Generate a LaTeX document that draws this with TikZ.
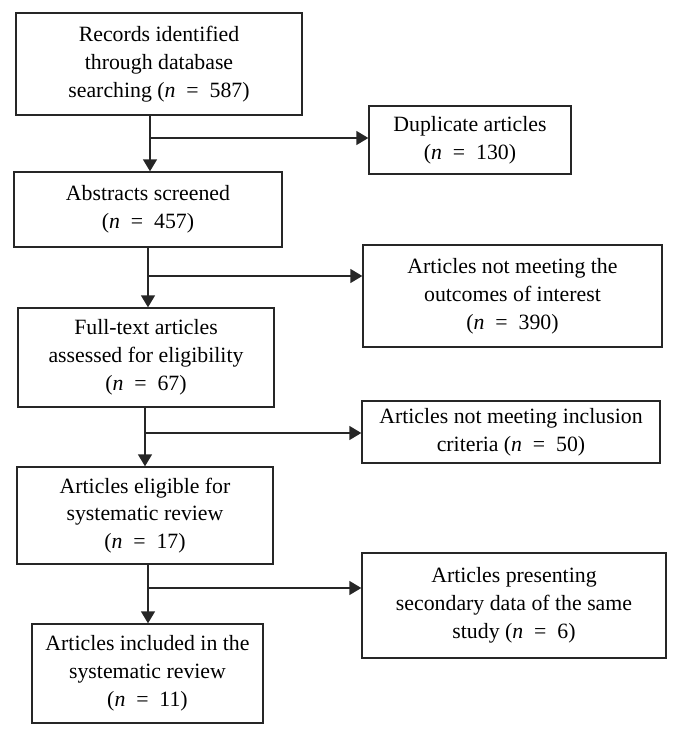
\documentclass[tikz,border=0pt]{standalone}
\usepackage{fontspec}
\setmainfont{Liberation Serif}
\usetikzlibrary{arrows.meta}
\newcommand{\neqcount}{\textit{n}\hspace{0.5em}=\hspace{0.5em}}
\begin{document}
\begin{tikzpicture}[x=1pt,y=1pt,
  box/.style={draw=black!85, line width=1.4pt, align=center, inner sep=0pt,
    font=\fontsize{21.8}{27.8}\selectfont},
  conn/.style={line width=1.4pt, draw=black!85,
    -{Triangle[length=12pt,width=14pt]}}]
\useasboundingbox (0,0) rectangle (680,-737);
% left column
\node[box, minimum width=286, minimum height=102] (b1) at (159,-64)
  {Records identified\\through database\\searching (\neqcount587)};
\node[box, minimum width=268, minimum height=75] (b2) at (148,-209.5)
  {Abstracts screened\\(\neqcount457)};
\node[box, minimum width=256, minimum height=99] (b3) at (146,-357.5)
  {Full-text articles\\assessed for eligibility\\(\neqcount67)};
\node[box, minimum width=256, minimum height=97] (b4) at (145,-515.5)
  {Articles eligible for\\systematic review\\(\neqcount17)};
\node[box, minimum width=231, minimum height=99] (b5) at (147.5,-673.5)
  {Articles included in the\\systematic review\\(\neqcount11)};
% right column
\node[box, minimum width=202, minimum height=68] (r1) at (470,-140)
  {Duplicate articles\\(\neqcount130)};
\node[box, minimum width=299, minimum height=102] (r2) at (512.5,-296)
  {Articles not meeting the\\outcomes of interest\\(\neqcount390)};
\node[box, minimum width=298, minimum height=62] (r3) at (511,-432)
  {Articles not meeting inclusion\\criteria (\neqcount50)};
\node[box, minimum width=304, minimum height=105] (r4) at (514,-605.5)
  {Articles presenting\\secondary data of the same\\study (\neqcount6)};
% junctions
\coordinate (j1) at (150,-138);
\coordinate (j2) at (148,-276);
\coordinate (j3) at (145,-433);
\coordinate (j4) at (148,-588);
% main flow
\draw[conn] (b1.south -| j1) -- (b2.north -| j1);
\draw[conn] (b2.south -| j2) -- (b3.north -| j2);
\draw[conn] (b3.south -| j3) -- (b4.north -| j3);
\draw[conn] (b4.south -| j4) -- (b5.north -| j4);
% branches
\draw[conn] (j1) -- (j1 -| r1.west);
\draw[conn] (j2) -- (j2 -| r2.west);
\draw[conn] (j3) -- (j3 -| r3.west);
\draw[conn] (j4) -- (j4 -| r4.west);
\end{tikzpicture}
\end{document}
